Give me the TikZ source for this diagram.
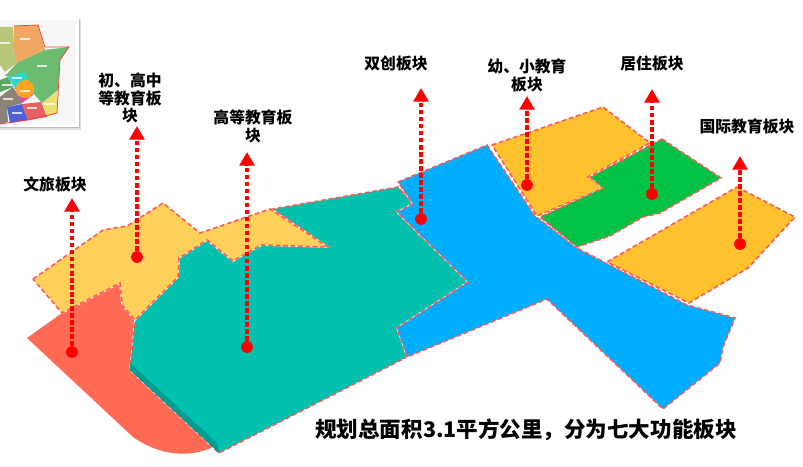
\documentclass[tikz,border=0pt]{standalone}
\usepackage{fontspec}
\newfontfamily\cjkfont{Noto Sans CJK SC}
\usetikzlibrary{arrows.meta}
\definecolor{paleyellow}{HTML}{FFD05A}
\definecolor{deepyellow}{HTML}{FFC12E}
\definecolor{redland}{HTML}{FF6A55}
\definecolor{tealland}{HTML}{00C0AE}
\definecolor{tealside}{HTML}{009E90}
\definecolor{blueland}{HTML}{00AEFF}
\definecolor{greenland}{HTML}{00C244}
\definecolor{edgered}{HTML}{FF5A5A}
\definecolor{mapolive}{HTML}{B8C87A}
\definecolor{maporange}{HTML}{EFA862}
\definecolor{mapgreen}{HTML}{6CBB70}
\definecolor{mapdark}{HTML}{58A860}
\definecolor{mapcyan}{HTML}{2ED8D0}
\definecolor{mapgrey}{HTML}{8B8378}
\definecolor{mapblue}{HTML}{5060D8}
\definecolor{mappink}{HTML}{F040B0}
\definecolor{mapred}{HTML}{E86060}
\definecolor{mapyellow}{HTML}{EEE070}
\definecolor{mapspot}{HTML}{FFA520}
\tikzset{
  plot/.style={fill=#1,draw=edgered,line width=.9pt,dash pattern=on 2.6pt off 1.6pt,
    preaction={draw=white,solid,line width=.9pt}},
  leader/.style={draw=red,line width=2.4pt,dash pattern=on 2.6pt off 1.4pt,
    -{Triangle[width=8.4pt,length=7.8pt]}},
  spot/.style={circle,fill=red,inner sep=0pt,minimum size=.235cm},
  tag/.style={align=center,font=\cjkfont\bfseries\fontsize{9}{10.2}\selectfont},
  maptag/.style={fill=white,opacity=.75,inner sep=0pt,minimum width=.22cm,minimum height=.045cm}
}
\begin{document}
\begin{tikzpicture}[x=.02cm,y=-.02cm]
\useasboundingbox (0,0) rectangle (803,466);

% inset map
\fill[black!12] (0,19) rectangle (81,130);
\fill[black!25] (0,19) rectangle (80,128);
\fill[white] (0,17) rectangle (79,127);
\fill[black!3] (0,20) rectangle (76,125);
\fill[mapolive] (0,27)--(13,27)--(13,47)--(17,63)--(5,72)--(0,65)--cycle;
\fill[maporange] (14,26)--(38,25)--(45,50)--(17,63)--(13,47)--cycle;
\fill[mapgreen] (5,76)--(17,63)--(45,50)--(69,47)--(60,60)--(58,90)--(42,103)--(33,93)--(28,80)--(10,77)--cycle;
\fill[mapdark] (0,80)--(8,77)--(13,87)--(0,92)--cycle;
\fill[mapcyan] (8,77)--(25,72)--(28,80)--(15,88)--cycle;
\fill[mapgrey] (0,97)--(13,87)--(23,103)--(7,107)--(8,122)--(0,124)--cycle;
\fill[mapblue] (7,107)--(22,104)--(28,120)--(10,123)--cycle;
\fill[mappink] (15,88)--(28,81)--(33,95)--(22,103)--cycle;
\fill[mapred] (22,104)--(41,102)--(47,117)--(28,120)--cycle;
\fill[mapyellow] (42,103)--(58,91)--(57,113)--(47,117)--cycle;
\fill[mapspot] (25,89) circle(9);
\draw[red!80,line width=.4pt] (14,26)--(38,25)--(45,47)--(69,47)--(60,60)--(57,113)--(28,120)--(0,124);
\foreach \x/\y in {25/39,5/43,42/66,7/85,17/78,25/91,8/99,17/113,32/108,49/104}
  \node[maptag] at (\x,\y) {};

% plots
\path[fill=redland] (27,338)--(62,313)--(120,283)--(122,305)--(135,320)--(130,370)--(213,447)
  .. controls (190,458) and (160,456) .. (133,437)--cycle;
\draw[plot=tealland] (135,320)--(178,277)--(179,258)--(207,240)--(233,261)--(252,250)--(262,245)--(328,247)
  --(273,209)--(398,187)--(413,204)--(397,212)--(468,282)--(397,328)--(407,357)--(219,453)--(130,370)--cycle;
\fill[tealside] (130,363)--(217,443)--(219,453)--(130,370)--cycle;
\draw[plot=paleyellow] (33,279)--(103,230)--(127,226)--(163,203)--(200,233)--(270,209)--(328,247)--(262,245)
  --(252,250)--(233,261)--(207,240)--(179,258)--(178,277)--(135,320)--(122,305)--(120,283)--(62,313)--cycle;
\draw[plot=blueland] (398,182)--(487,145)--(535,216)--(577,248)--(687,305)--(735,318)--(723,347)--(720,363)
  --(663,409)--(547,299)--(407,357)--(397,328)--(468,282)--(397,212)--(413,204)--cycle;
\draw[plot=deepyellow] (492,145)--(603,107)--(650,143)--(588,177)--(603,188)--(537,216)--cycle;
\draw[plot=greenland] (662,139)--(721,178)--(660,213)--(643,217)--(610,236)--(577,247)--(540,217)--(603,188)
  --(590,177)--cycle;
\draw[plot=deepyellow] (737,187)--(795,217)--(748,268)--(689,303)--(607,262)--cycle;

% leaders
\foreach \name/\x/\y/\top in {wenlv/72/352/198,chugao/137/257/126,gaodeng/247/347/152,shuangchuang/421/219/88,
    youxiao/527/185/96,juzhu/652/194/89,guoji/740/244/156}
{
  \node[spot] (\name) at (\x,\y) {};
  \coordinate (\name top) at (\x,\top);
  \draw[leader] (\name) -- (\name top);
}

% labels
\node[tag] (wenlvtag) at (55,184) {文旅板块};
\node[tag] (chugaotag) at (130,98) {初、高中\\等教育板\\块};
\node[tag] (gaodengtag) at (253,126) {高等教育板\\块};
\node[tag] (shuangchuangtag) at (396,64) {双创板块};
\node[tag] (youxiaotag) at (527,75) {幼、小教育\\板块};
\node[tag] (juzhutag) at (652,64) {居住板块};
\node[tag] (guojitag) at (747,126) {国际教育板块};
\node[font=\cjkfont\bfseries\fontsize{12.25}{14}\selectfont] (summary) at (526,430) {规划总面积3.1平方公里，分为七大功能板块};
\end{tikzpicture}
\end{document}
